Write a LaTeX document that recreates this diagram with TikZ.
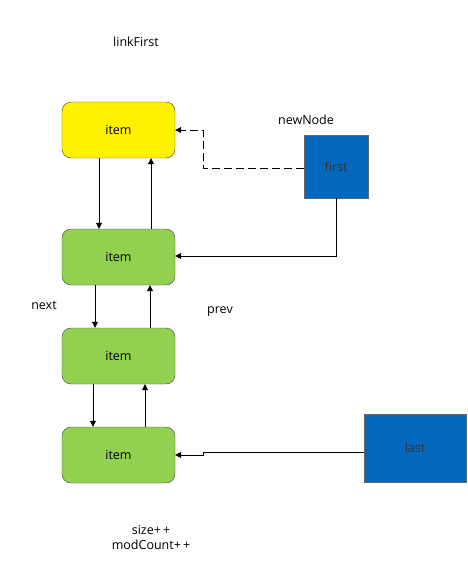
\documentclass[tikz,border=0pt]{standalone}
\usepackage{fontspec}
\setmainfont{Open Sans}
\usetikzlibrary{arrows.meta}
\definecolor{ygreen}{HTML}{92D050}
\definecolor{myblue}{HTML}{0468BF}
\tikzset{
  itembox/.style={draw=black!75, rounded corners=9pt, minimum width=113pt, minimum height=56pt, inner sep=0pt, font=\fontsize{12.5}{14}\selectfont},
  bluebox/.style={draw=black!60, fill=myblue, inner sep=0pt, font=\fontsize{12.5}{14}\selectfont, text=black!80},
  conn/.style={draw=black, line width=0.8pt, -{Triangle[length=6pt,width=6pt]}},
  lbl/.style={font=\fontsize{12.5}{15}\selectfont, inner sep=0pt}
}
\begin{document}
\begin{tikzpicture}[x=1pt,y=-1pt]
\useasboundingbox (0,0) rectangle (468,579);
\node[itembox, fill=yellow] (n0) at (118.5,130) {item};
\node[itembox, fill=ygreen] (n1) at (118.5,257) {item};
\node[itembox, fill=ygreen] (n2) at (118.5,356) {item};
\node[itembox, fill=ygreen] (n3) at (118.5,455) {item};
\node[bluebox, minimum width=64pt, minimum height=63pt] (first) at (336,166.5) {first};
\node[bluebox, minimum width=102pt, minimum height=68pt] (last) at (415,448) {last};
\node[lbl] (t1) at (136,42) {linkFirst};
\node[lbl] (t2) at (306,120) {newNode};
\node[lbl] (t3) at (44,305) {next};
\node[lbl] (t4) at (220,312) {prev};
\node[lbl, align=center] (t5) at (151,537) {size+\,+\\modCount+\,+};
% vertical links
\draw[conn] (n0.south -| 99,0) -- (n1.north -| 99,0);
\draw[conn] (n1.north -| 151,0) -- (n0.south -| 151,0);
\draw[conn] (n1.south -| 95,0) -- (n2.north -| 95,0);
\draw[conn] (n2.north -| 150,0) -- (n1.south -| 150,0);
\draw[conn] (n2.south -| 93,0) -- (n3.north -| 93,0);
\draw[conn] (n3.north -| 145,0) -- (n2.south -| 145,0);
% first / last
\draw[conn, dashed, dash pattern=on 8pt off 4pt] (first.west |- 0,168) -- (203,168) -- (203,130) -- (n0.east);
\draw[conn] (first.south) -- (336,256) -- (n1.east |- 0,256);
\draw[conn] (last.west |- 0,452) -- (203,452) -- (203,455) -- (n3.east);
\end{tikzpicture}
\end{document}
